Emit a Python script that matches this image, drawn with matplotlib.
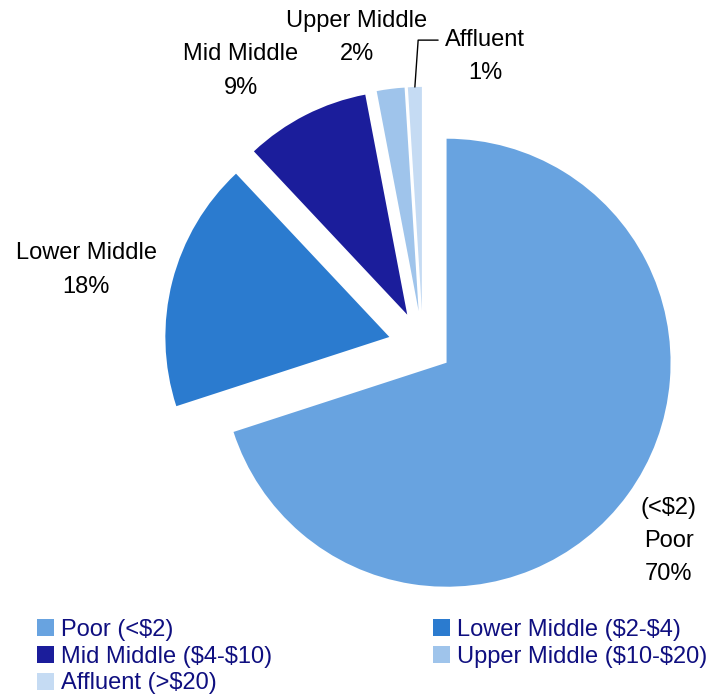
import numpy as np
import matplotlib
matplotlib.use("Agg")
import matplotlib.pyplot as plt

plt.rcParams['font.family'] = ['Liberation Sans', 'DejaVu Sans']
plt.rcParams['text.parse_math'] = False

# ---- data ----
categories = ["Poor", "Lower Middle", "Mid Middle", "Upper Middle", "Affluent"]
ranges = ["(<$2)", "($2-$4)", "($4-$10)", "($10-$20)", "(>$20)"]
shares = [70, 18, 9, 2, 1]

# ---- style / layout ----
colors = ["#68A3E0", "#2B7BCF", "#1B1D9B", "#9FC4EB", "#C5DBF3"]
explode = [0.13, 0.155, 0.155, 0.155, 0.155]
label_pos = [(1.098, -0.873), (-1.504, 0.3375), (-0.8125, 1.226),
             (-0.295, 1.375), (0.277, 1.29)]

W, H = 717, 694
fig = plt.figure(figsize=(W / 100, H / 100), dpi=100)
ax = fig.add_axes([0, 0, 1, 1])

wedges, _ = ax.pie(shares, colors=colors, explode=explode, startangle=90,
                   counterclock=False, radius=1.0,
                   wedgeprops=dict(linewidth=0))

fs = 17
ls = 1.65
for i, (cat, v) in enumerate(zip(categories, shares)):
    if i == 0:
        txt = f"{ranges[0]}\n{cat}\n{v}%"
    else:
        txt = f"{cat}\n{v}%"
    x, y = label_pos[i]
    if cat == "Affluent":
        w = wedges[i]
        th = np.deg2rad((w.theta1 + w.theta2) / 2)
        tip = (w.center[0] + w.r * np.cos(th), w.center[1] + w.r * np.sin(th))
        ax.annotate(txt, xy=tip, xytext=(x, y), ha='center', va='center',
                    fontsize=fs, linespacing=ls, color='black',
                    arrowprops=dict(arrowstyle='-', color='black', lw=1.0,
                                    relpos=(0.0, 0.80), shrinkA=3, shrinkB=0,
                                    connectionstyle='angle,angleA=180,angleB=86,rad=0'))
    else:
        ax.text(x, y, txt, ha='center', va='center', fontsize=fs,
                linespacing=ls, color='black')

ax.set_aspect('auto')
ax.set_xlim(-423 / 224, (W - 423) / 224)
ax.set_ylim(-(H - 345.6) / 224, 345.6 / 224)
ax.axis('off')

order = [0, 2, 4, 1, 3]
handles = [wedges[i] for i in order]
labels = [f"{categories[i]} {ranges[i]}" for i in order]
leg = fig.legend(handles, labels, ncol=2, loc='upper left',
                 bbox_to_anchor=(37 / W, 1 - 619 / H), frameon=False,
                 fontsize=fs, handlelength=0.72, handleheight=0.72,
                 handletextpad=0.3, labelspacing=0.2, columnspacing=6.8,
                 borderpad=0, borderaxespad=0)
for t in leg.get_texts():
    t.set_color('#0F0F80')

fig.savefig("out.png", dpi=100)
